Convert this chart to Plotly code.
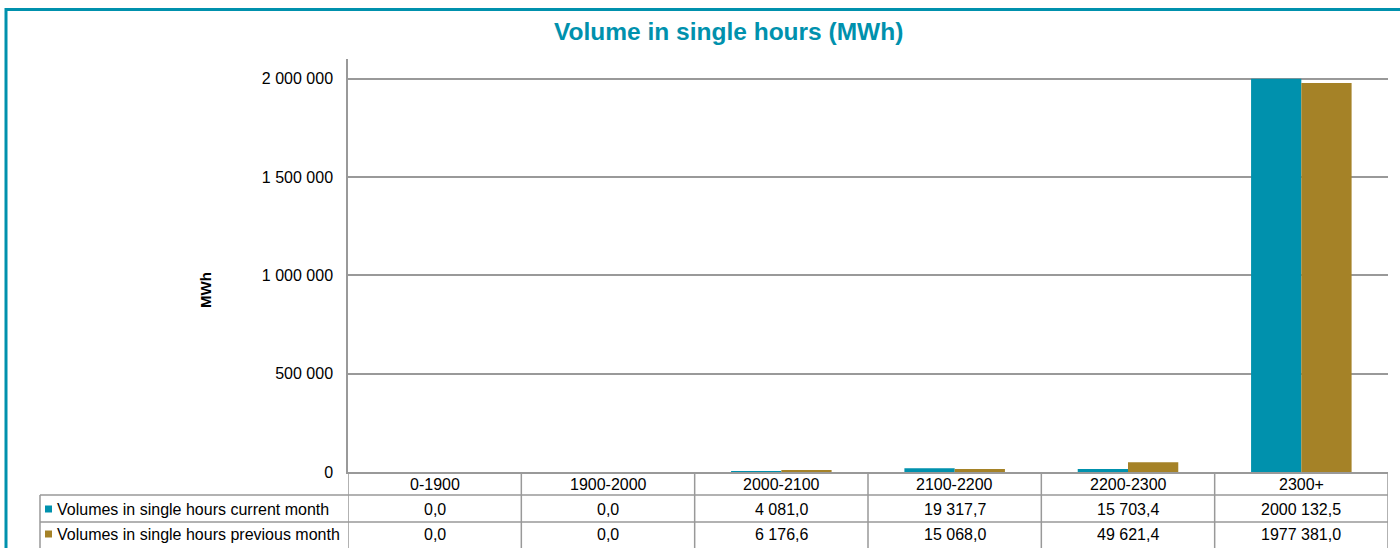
import plotly.graph_objects as go

categories = ["0-1900", "1900-2000", "2000-2100", "2100-2200", "2200-2300", "2300+"]
current_month = [0.0, 0.0, 4081.0, 19317.7, 15703.4, 2000132.5]
previous_month = [0.0, 0.0, 6176.6, 15068.0, 49621.4, 1977381.0]
series_names = ["Volumes in single hours current month", "Volumes in single hours previous month"]
y_ticks = [0, 500000, 1000000, 1500000, 2000000]

TEAL = "#0091ad"
BROWN = "#a58227"
GRID = "#999999"
FONT = "Liberation Sans, Arial, sans-serif"

W, H = 1400, 548
L, R, T, B = 348, 12, 59, 76
PW = W - L - R
PH = H - T - B


def px_x(p):
    return (p - L) / PW


def px_y(p):
    return (H - B - p) / PH


def fmt(v):
    s = f"{v:.1f}".replace(".", ",")
    ip, dp = s.split(",")
    if len(ip) > 3:
        ip = ip[:-3] + " " + ip[-3:]
    return ip + "," + dp


fig = go.Figure()
fig.add_trace(go.Bar(x=categories, y=current_month, name=series_names[0],
                     marker=dict(color=TEAL, line=dict(width=0))))
fig.add_trace(go.Bar(x=categories, y=previous_month, name=series_names[1],
                     marker=dict(color=BROWN, line=dict(width=0))))

shapes = []
ann = []

# outer border
shapes.append(dict(type="rect", xref="paper", yref="paper",
                   x0=px_x(6), x1=px_x(1500), y0=px_y(700), y1=px_y(9.5),
                   line=dict(color=TEAL, width=3), layer="below"))

# table horizontal lines
for yy in [495, 522]:
    shapes.append(dict(type="line", xref="paper", yref="paper",
                       x0=px_x(40), x1=1, y0=px_y(yy), y1=px_y(yy),
                       line=dict(color=GRID, width=1.5)))
# left border of label column
shapes.append(dict(type="line", xref="paper", yref="paper",
                   x0=px_x(40), x1=px_x(40), y0=px_y(495), y1=px_y(560),
                   line=dict(color=GRID, width=1.5)))
# vertical separators at category boundaries
for i in range(len(categories) + 1):
    shapes.append(dict(type="line", xref="x", yref="paper",
                       x0=i - 0.5, x1=i - 0.5, y0=0, y1=px_y(560),
                       line=dict(color=GRID, width=1.5)))

# category labels and values
row_y = [484, 509, 534]
tf = dict(size=16, color="#000", family=FONT)
for i, c in enumerate(categories):
    for r, txt in enumerate([c, fmt(current_month[i]), fmt(previous_month[i])]):
        ann.append(dict(x=c, y=px_y(row_y[r]), xref="x", yref="paper", text=txt,
                        xanchor="center", yanchor="middle",
                        showarrow=False, font=tf))

# legend rows
for k, (nm, col) in enumerate(zip(series_names, [TEAL, BROWN])):
    yc = row_y[k + 1]
    shapes.append(dict(type="rect", xref="paper", yref="paper",
                       x0=px_x(45), x1=px_x(52), y0=px_y(yc + 3.5), y1=px_y(yc - 3.5),
                       fillcolor=col, line=dict(width=0)))
    ann.append(dict(x=px_x(55), y=px_y(yc), xref="paper", yref="paper", text=nm,
                    xanchor="left", yanchor="middle", showarrow=False, font=tf))

# title
ann.append(dict(x=px_x(728), y=px_y(32), xref="paper", yref="paper",
                text="<b>Volume in single hours (MWh)</b>", showarrow=False,
                xanchor="center", yanchor="middle",
                font=dict(size=24.5, color=TEAL, family=FONT)))
# y axis title
ann.append(dict(x=px_x(205), y=px_y(290), xref="paper", yref="paper",
                text="<b>MWh</b>", textangle=-90, showarrow=False,
                xanchor="center", yanchor="middle",
                font=dict(size=15, color="#000", family=FONT)))

fig.update_layout(
    width=W, height=H,
    margin=dict(l=L, r=R, t=T, b=B, pad=0),
    paper_bgcolor="white", plot_bgcolor="white",
    showlegend=False,
    barmode="group", bargap=0.42, bargroupgap=0,
    separators=", ",
    font=dict(family=FONT, size=16, color="#000"),
    xaxis=dict(type="category", range=[-0.5, 5.5], showticklabels=False, ticks="",
               showgrid=False, showline=True, linecolor=GRID, linewidth=1.5,
               zeroline=False, fixedrange=True),
    yaxis=dict(range=[0, 2100000], tickvals=y_ticks, tickformat=",d",
               showgrid=True, gridcolor=GRID, gridwidth=1.5,
               showline=True, linecolor=GRID, linewidth=1.5, zeroline=False,
               ticks="", ticklabelstandoff=10,
               tickfont=dict(size=16, color="#000", family=FONT)),
    shapes=shapes, annotations=ann,
)

fig.write_html("out.html", config={"displayModeBar": False},
               post_script="document.body.style.margin='0';document.body.style.overflow='hidden';")
